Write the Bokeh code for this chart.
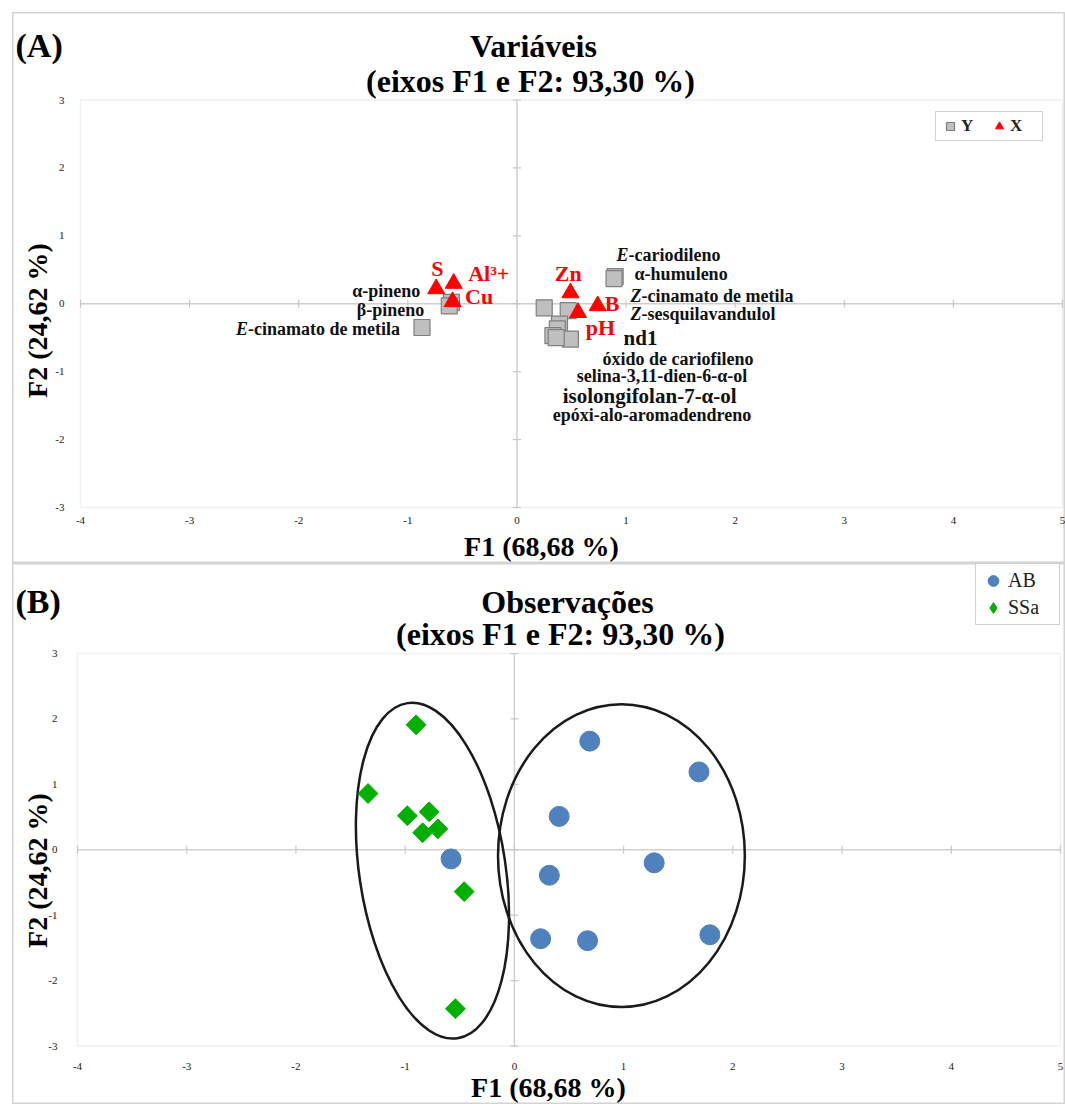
import math
from bokeh.plotting import figure
from bokeh.models import Range1d, BoxAnnotation, Legend, LegendItem
from bokeh.layouts import column
from bokeh.core.properties import value
from bokeh.embed import file_html
from bokeh.resources import INLINE

FONT = "Liberation Serif"
SERIF = value(FONT)

# ---- shared axis settings ----
x_ticks = [-4, -3, -2, -1, 0, 1, 2, 3, 4, 5]
y_ticks = [-3, -2, -1, 0, 1, 2, 3]
x_title = "F1 (68,68 %)"
y_title = "F2 (24,62 %)"
subtitle = "(eixos F1 e F2: 93,30 %)"

# ---- (A) variables ----
y_names = ["α-pineno", "β-pineno", "E-cinamato de metila", "E-cariodileno",
           "α-humuleno", "Z-cinamato de metila", "Z-sesquilavandulol", "nd1",
           "óxido de cariofileno", "selina-3,11-dien-6-α-ol",
           "isolongifolan-7-α-ol", "epóxi-alo-aromadendreno"]
y_f1 = [-0.60, -0.62, -0.87, 0.90, 0.89, 0.47, 0.25, 0.39, 0.37, 0.33, 0.49, 0.36]
y_f2 = [0.02, -0.03, -0.35, 0.40, 0.37, -0.10, -0.06, -0.30, -0.37, -0.47, -0.52, -0.50]

x_names = ["S", "Al³+", "Cu", "Zn", "B", "pH"]
x_f1 = [-0.74, -0.58, -0.59, 0.49, 0.74, 0.56]
x_f2 = [0.22, 0.30, 0.03, 0.16, -0.03, -0.13]

# ---- (B) observations ----
ab_f1 = [-0.58, 0.69, 1.69, 0.41, 1.28, 0.32, 0.24, 0.67, 1.79]
ab_f2 = [-0.14, 1.66, 1.19, 0.51, -0.20, -0.39, -1.36, -1.39, -1.30]
ssa_f1 = [-0.90, -1.34, -0.98, -0.78, -0.84, -0.70, -0.46, -0.54]
ssa_f2 = [1.91, 0.86, 0.52, 0.58, 0.26, 0.32, -0.64, -2.43]

# group ellipses (centre, width, height in axis units, tilt in degrees)
grp_cx = [-0.75, 0.98]
grp_cy = [-0.32, -0.09]
grp_w = [1.34, 2.26]
grp_h = [5.18, 4.63]
grp_deg = [8.5, 0.0]

PANEL_W = 1053


class Panel:
    """A figure whose frame fills the whole panel; the F1/F2 plot area is a
    sub-box of it, so headings and legends can sit anywhere in the panel."""

    def __init__(self, height, origin, gap_top, box):
        self.ox, self.oy = origin          # panel position on the page
        L, R, T, B = box                   # plot-area edges, page pixels
        self.L, self.T = L, T
        self.ux = (R - L) / 9.0
        self.uy = (B - T) / 6.0
        xr = Range1d(self.X(self.ox), self.X(self.ox + PANEL_W))
        yr = Range1d(self.Y(self.oy + height), self.Y(self.oy))
        self.p = figure(width=PANEL_W, height=height, x_range=xr, y_range=yr,
                        title=None, x_axis_type=None, y_axis_type=None,
                        output_backend="svg", toolbar_location=None, min_border=0,
                        margin=(gap_top, 0, 0, self.ox),
                        background_fill_color="white", border_fill_color="white",
                        outline_line_color="#d4d4d4", outline_line_width=2)
        self._axes()

    def X(self, px):
        return -4 + (px - self.L) / self.ux

    def Y(self, py):
        return 3 - (py - self.T) / self.uy

    def _axes(self):
        p = self.p
        p.add_layout(BoxAnnotation(left=-4, right=5, bottom=-3, top=3, fill_color=None,
                                   line_color="#d0d0d0", line_width=1.5, level="underlay"))
        # axes through the origin, with small tick marks
        p.segment(x0=[-4, 0], y0=[0, -3], x1=[5, 0], y1=[0, 3],
                  line_color="#d0d0d0", line_width=1.5)
        dy = 4.0 / self.uy
        dx = 4.0 / self.ux
        p.segment(x0=x_ticks, y0=[-dy] * len(x_ticks), x1=x_ticks, y1=[dy] * len(x_ticks),
                  line_color="#c8c8c8", line_width=1.2)
        p.segment(x0=[-dx] * len(y_ticks), y0=y_ticks, x1=[dx] * len(y_ticks), y1=y_ticks,
                  line_color="#c8c8c8", line_width=1.2)

    def tick_labels(self, bottom_py, left_px):
        p = self.p
        p.text(x=x_ticks, y=[self.Y(bottom_py)] * len(x_ticks), text=[str(t) for t in x_ticks],
               text_font=SERIF, text_font_size="11px", text_color="#222222",
               text_align="center", text_baseline="middle")
        p.text(x=[self.X(left_px)] * len(y_ticks), y=y_ticks, text=[str(t) for t in y_ticks],
               text_font=SERIF, text_font_size="11px", text_color="#222222",
               text_align="right", text_baseline="middle")

    def text(self, px, py, s, size, align="center", angle=0.0, color="black", style="bold"):
        self.p.text(x=[self.X(px)], y=[self.Y(py)], text=[s], angle=angle,
                    text_font=SERIF, text_font_style=style, text_font_size=size,
                    text_color=color, text_align=align, text_baseline="middle")


def dress(panel, letter, title, title_x, title_y, sub_x, sub_y, f1_xy, f2_xy, tick_b, tick_l):
    panel.text(15, title_y, letter, "34px", align="left")
    panel.text(title_x, title_y, title, "32px")
    panel.text(sub_x, sub_y, subtitle, "32px")
    panel.text(f1_xy[0], f1_xy[1], x_title, "28px")
    panel.text(f2_xy[0], f2_xy[1], y_title, "28px", angle=math.pi / 2)
    panel.tick_labels(tick_b, tick_l)


# ================= panel A =================
A = Panel(551, (12, 12), 12, (80, 1062, 99.5, 507))
dress(A, "(A)", "Variáveis", 533, 45, 530, 80, (541, 546), (37, 320), 520, 64)
pA = A.p

sq = pA.scatter(y_f1, y_f2, marker="square", size=16, fill_color="#bfbfbf",
                line_color="#7f7f7f", line_width=1.2)
tri = pA.scatter(x_f1, x_f2, marker="triangle", size=17, fill_color="#ff0000",
                 line_color="#ff0000")

# label anchors for the variables (axis units) and their alignment
y_lab_x = [-0.886, -0.849, -2.575, 0.913, 1.078, 1.041, 1.041, 0.977, 0.785, 0.548, 0.420, 0.329]
y_lab_y = [0.19, -0.09, -0.37, 0.72, 0.44, 0.12, -0.15, -0.50, -0.81, -1.06, -1.36, -1.64]
y_lab_align = ["right", "right"] + ["left"] * 10
y_lab_size = ["18px"] * 7 + ["21px", "18px", "18px", "21px", "18px"]

for name, lx, ly, al, fs in zip(y_names, y_lab_x, y_lab_y, y_lab_align, y_lab_size):
    if name[:2] in ("E-", "Z-"):
        pre_w = (0.667 if name[0] == "E" else 0.611) * int(fs[:-2])
        pA.text(x=[lx], y=[ly], text=[name[0]], text_font=SERIF, text_font_style="bold italic",
                text_font_size=fs, text_align="left", text_baseline="middle", text_color="#111111")
        pA.text(x=[lx], y=[ly], text=[name[1:]], x_offset=pre_w, text_font=SERIF,
                text_font_style="bold", text_font_size=fs, text_align="left",
                text_baseline="middle", text_color="#111111")
    else:
        pA.text(x=[lx], y=[ly], text=[name], text_font=SERIF, text_font_style="bold",
                text_font_size=fs, text_align=al, text_baseline="middle", text_color="#111111")

x_lab_x = [-0.785, -0.447, -0.475, 0.347, 0.804, 0.630]
x_lab_y = [0.52, 0.44, 0.10, 0.44, 0.0, -0.355]
pA.text(x=x_lab_x, y=x_lab_y, text=x_names, text_font=SERIF, text_font_style="bold",
        text_font_size="22px", text_align="left", text_baseline="middle", text_color="#ff0000")

legA = Legend(items=[LegendItem(label="Y", renderers=[sq]), LegendItem(label="X", renderers=[tri])],
              location=(923, 422), orientation="horizontal",
              label_text_font=FONT, label_text_font_style="bold", label_text_font_size="17px",
              label_text_color="#222222", glyph_width=20, glyph_height=20, label_standoff=1,
              label_width=28, spacing=0, padding=4, margin=0, border_line_color="#a6a6a6",
              border_line_width=1.5, background_fill_color="white")
pA.add_layout(legA)

# ================= panel B =================
Bp = Panel(541, (12, 563), 0, (77, 1060, 653, 1045.5))
dress(Bp, "(B)", "Observações", 567, 601, 560, 633, (548, 1087), (37, 870), 1066, 57)
pB = Bp.p

pB.ellipse(x=grp_cx, y=grp_cy, width=grp_w, height=grp_h,
           angle=[math.radians(d) for d in grp_deg],
           fill_color=None, line_color="#1a1a1a", line_width=2.5)

ab = pB.scatter(ab_f1, ab_f2, marker="circle", size=20, fill_color="#4f81bd",
                line_color="#4f81bd")
# diamonds: squares turned by 45 degrees
ssa = pB.scatter(ssa_f1, ssa_f2, marker="square", angle=math.pi / 4, size=14,
                 fill_color="#00b000", line_color="#00b000")
# legend swatch for SSa (the legend does not turn markers, so use a diamond
# marker on a renderer whose only point is NaN and is never drawn)
ssa_key = pB.scatter(x=[float("nan")], y=[float("nan")], marker="diamond", size=14,
                     fill_color="#00b000", line_color="#00b000")

legB = Legend(items=[LegendItem(label="AB", renderers=[ab]),
                     LegendItem(label="SSa", renderers=[ssa_key])],
              location=(963, 479), orientation="vertical",
              label_text_font=FONT, label_text_font_size="20px", label_text_color="#222222",
              glyph_width=28, glyph_height=27, label_standoff=1, label_width=48,
              spacing=0, padding=3, margin=0, border_line_color="#a6a6a6",
              border_line_width=1.5, background_fill_color="white")
pB.add_layout(legB)

layout = column(pA, pB, spacing=0)
open("out.html", "w").write(file_html(layout, INLINE))
